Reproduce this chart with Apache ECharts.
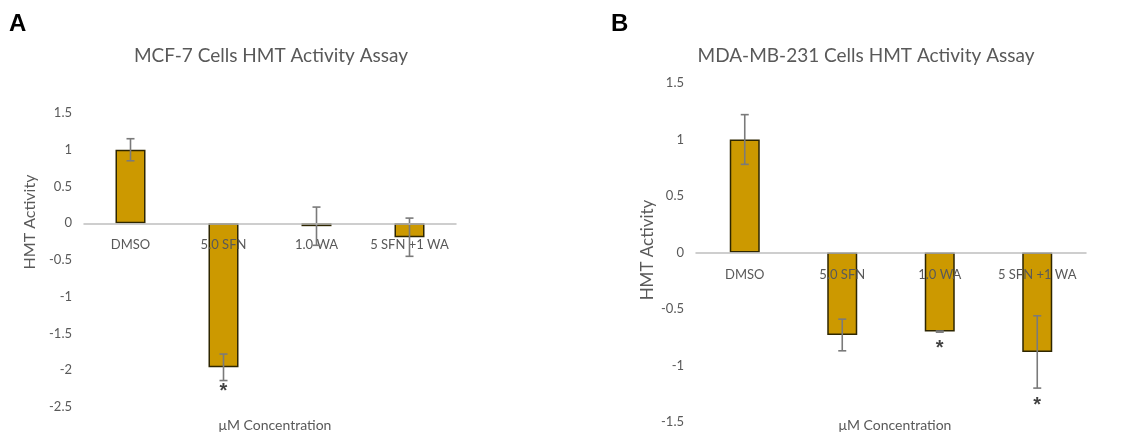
<!DOCTYPE html>
<html>
<head>
<meta charset="utf-8">
<script src="https://cdn.jsdelivr.net/npm/echarts@6/dist/echarts.min.js"></script>
<style>html,body{margin:0;padding:0;background:#fff;}#c{width:1123px;height:440px;}</style>
</head>
<body>
<div id="c"></div>
<script>
// ---- data ----
var categories = ['DMSO', '5.0 SFN', '1.0 WA', '5 SFN +1 WA'];
var valuesA = [1.0, -1.96, -0.04, -0.19];
var errorsA = [0.15, 0.18, 0.26, 0.26];
var starsA = [null, -2.21, null, null];
var valuesB = [1.0, -0.73, -0.70, -0.88];
var errorsB = [0.22, 0.14, 0.005, 0.32];
var starsB = [null, null, -0.80, -1.30];
var yTicksA = {min: -2.5, max: 1.5, interval: 0.5};
var yTicksB = {min: -1.5, max: 1.5, interval: 0.5};
var titleA = 'MCF-7 Cells HMT Activity Assay';
var titleB = 'MDA-MB-231 Cells HMT Activity Assay';
var xName = 'μM Concentration';
var yName = 'HMT Activity';

var FONT = 'Lato';
var GRAY = '#595959';

function errData(vals, errs) {
  return vals.map(function (v, i) { return [i, v - errs[i], v + errs[i]]; });
}
function starData(stars) {
  var out = [];
  stars.forEach(function (s, i) { if (s !== null) out.push([i, s]); });
  return out;
}
function renderErr(params, api) {
  var x = api.value(0);
  var lo = api.coord([x, api.value(1)]);
  var hi = api.coord([x, api.value(2)]);
  var w = 4;
  var st = {stroke: '#7a7a7a', lineWidth: 1.6};
  return {
    type: 'group',
    children: [
      {type: 'line', shape: {x1: hi[0], y1: hi[1], x2: lo[0], y2: lo[1]}, style: st},
      {type: 'line', shape: {x1: hi[0] - w, y1: hi[1], x2: hi[0] + w, y2: hi[1]}, style: st},
      {type: 'line', shape: {x1: lo[0] - w, y1: lo[1], x2: lo[0] + w, y2: lo[1]}, style: st}
    ]
  };
}
function renderCatLabel(params, api) {
  var i = api.value(0);
  var p = api.coord([i, 0]);
  return {
    type: 'text', x: p[0], y: p[1] + 22,
    style: {text: categories[i], fill: GRAY, font: '13px ' + FONT, textAlign: 'center', textVerticalAlign: 'middle'}
  };
}
function xAxisCfg(gi) {
  return {
    type: 'category', gridIndex: gi, data: categories, z: 10,
    axisLine: {onZero: true, lineStyle: {color: '#bfbfbf', width: 1.5}},
    axisTick: {show: false},
    axisLabel: {show: false}
  };
}
function yAxisCfg(gi, t) {
  return {
    type: 'value', gridIndex: gi, min: t.min, max: t.max, interval: t.interval,
    axisLine: {show: false}, axisTick: {show: false}, splitLine: {show: false},
    axisLabel: {color: GRAY, fontFamily: FONT, fontSize: 13, margin: 12}
  };
}
function barSeries(idx, vals) {
  return {
    type: 'bar', xAxisIndex: idx, yAxisIndex: idx, data: vals, barWidth: 30,
    itemStyle: {color: '#cc9900', borderColor: '#2e2600', borderWidth: 1.5}, z: 2
  };
}
function errSeries(idx, vals, errs) {
  return {
    type: 'custom', xAxisIndex: idx, yAxisIndex: idx, data: errData(vals, errs),
    renderItem: renderErr, z: 4, silent: true
  };
}
function catLabelSeries(idx) {
  return {
    type: 'custom', xAxisIndex: idx, yAxisIndex: idx,
    data: categories.map(function (c, i) { return [i, 0]; }),
    renderItem: renderCatLabel, z: 3, silent: true
  };
}
function starSeries(idx, stars) {
  return {
    type: 'scatter', xAxisIndex: idx, yAxisIndex: idx, data: starData(stars),
    symbolSize: 1, itemStyle: {color: 'rgba(0,0,0,0)'}, z: 5,
    label: {show: true, position: 'inside', offset: [0, 6], formatter: '*', color: '#111', fontSize: 20, fontWeight: 'bold', fontFamily: 'Liberation Sans'}
  };
}

var chart = echarts.init(document.getElementById('c'), null, {renderer: 'canvas'});
chart.setOption({
  backgroundColor: '#fff',
  animation: false,
  title: [
    {text: 'A', left: 4, top: 7, textStyle: {fontFamily: 'Liberation Sans', fontWeight: 'bold', fontSize: 24, color: '#000'}},
    {text: 'B', left: 606, top: 7, textStyle: {fontFamily: 'Liberation Sans', fontWeight: 'bold', fontSize: 24, color: '#000'}},
    {text: titleA, left: 266, top: 41, textAlign: 'center', textStyle: {fontFamily: FONT, fontWeight: 'normal', fontSize: 19, color: GRAY}},
    {text: titleB, left: 861, top: 41, textAlign: 'center', textStyle: {fontFamily: FONT, fontWeight: 'normal', fontSize: 19, color: GRAY}},
    {text: xName, left: 270, top: 413, textAlign: 'center', textStyle: {fontFamily: FONT, fontWeight: 'normal', fontSize: 14, color: GRAY}},
    {text: xName, left: 890, top: 413, textAlign: 'center', textStyle: {fontFamily: FONT, fontWeight: 'normal', fontSize: 14, color: GRAY}}
  ],
  graphic: [
    {type: 'text', x: 30, y: 222, rotation: Math.PI / 2, style: {text: yName, fill: GRAY, font: '16px ' + FONT, textAlign: 'center', textVerticalAlign: 'middle'}},
    {type: 'text', x: 648, y: 250, rotation: Math.PI / 2, style: {text: yName, fill: GRAY, font: '17px ' + FONT, textAlign: 'center', textVerticalAlign: 'middle'}}
  ],
  grid: [
    {left: 84, top: 113, width: 372, height: 294},
    {left: 696, top: 83, width: 390, height: 339}
  ],
  xAxis: [xAxisCfg(0), xAxisCfg(1)],
  yAxis: [yAxisCfg(0, yTicksA), yAxisCfg(1, yTicksB)],
  series: [
    barSeries(0, valuesA), catLabelSeries(0), errSeries(0, valuesA, errorsA), starSeries(0, starsA),
    barSeries(1, valuesB), catLabelSeries(1), errSeries(1, valuesB, errorsB), starSeries(1, starsB)
  ]
});
</script>
</body>
</html>
